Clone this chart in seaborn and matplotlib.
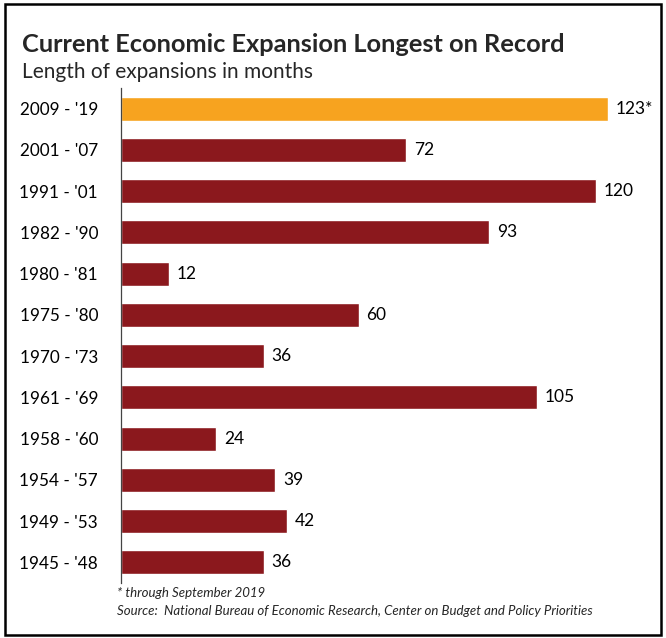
import pandas as pd
import matplotlib.pyplot as plt
import seaborn as sns
from matplotlib.patches import Rectangle

# --- DATA ---
periods = ["2009 - '19", "2001 - '07", "1991 - '01", "1982 - '90", "1980 - '81",
           "1975 - '80", "1970 - '73", "1961 - '69", "1958 - '60", "1954 - '57",
           "1949 - '53", "1945 - '48"]
months = [123, 72, 120, 93, 12, 60, 36, 105, 24, 39, 42, 36]
value_labels = ["123*", "72", "120", "93", "12", "60", "36", "105", "24", "39", "42", "36"]

ORANGE = '#F7A31F'
DARK_RED = '#8B181D'


def plot_expansions():
    df = pd.DataFrame({'Period': periods, 'Months': months})
    palette = {p: (ORANGE if i == 0 else DARK_RED) for i, p in enumerate(periods)}

    sns.set_theme(style="white")
    plt.rcParams['font.family'] = ['Lato', 'DejaVu Sans']

    fig = plt.figure(figsize=(6.66, 6.38), dpi=100)
    ax = fig.add_axes([121 / 666, 1 - 583 / 638, 487 / 666, 495 / 638])

    sns.barplot(data=df, y='Period', x='Months', hue='Period', palette=palette,
                order=periods, orient='h', width=0.58, legend=False, ax=ax,
                saturation=1)

    ax.set_xlim(0, 123)
    ax.set_ylim(11.5, -0.5)
    ax.set_xlabel('')
    ax.set_ylabel('')
    ax.set_xticks([])
    for s in ['top', 'right', 'bottom']:
        ax.spines[s].set_visible(False)
    ax.spines['left'].set_color('#444444')
    ax.spines['left'].set_linewidth(0.9)
    ax.tick_params(axis='y', length=0, pad=16.5, labelsize=12.3, labelcolor='black')

    # value labels at bar ends
    for i, (v, lab) in enumerate(zip(months, value_labels)):
        ax.text(v + 2.0, i, lab, va='center', ha='left', fontsize=12.5,
                color='black', clip_on=False)

    # titles
    fig.text(22 / 666, 1 - 52 / 638, 'Current Economic Expansion Longest on Record',
             fontsize=18.3, fontweight='bold', ha='left', va='baseline')
    fig.text(22 / 666, 1 - 78 / 638, 'Length of expansions in months',
             fontsize=15, ha='left', va='baseline')

    # footnotes
    fig.text(117 / 666, 1 - 593 / 638, '* through September 2019',
             fontsize=9.5, style='italic', ha='left', va='center')
    fig.text(117 / 666, 1 - 611 / 638,
             'Source:  National Bureau of Economic Research, Center on Budget and Policy Priorities',
             fontsize=9.5, style='italic', ha='left', va='center')

    # outer frame
    fig.patches.append(Rectangle((5 / 666, 3 / 638), 656 / 666, 631 / 638,
                                 transform=fig.transFigure, fill=False,
                                 edgecolor='black', linewidth=1.8))

    fig.savefig('out.png', dpi=100)


if __name__ == "__main__":
    plot_expansions()
